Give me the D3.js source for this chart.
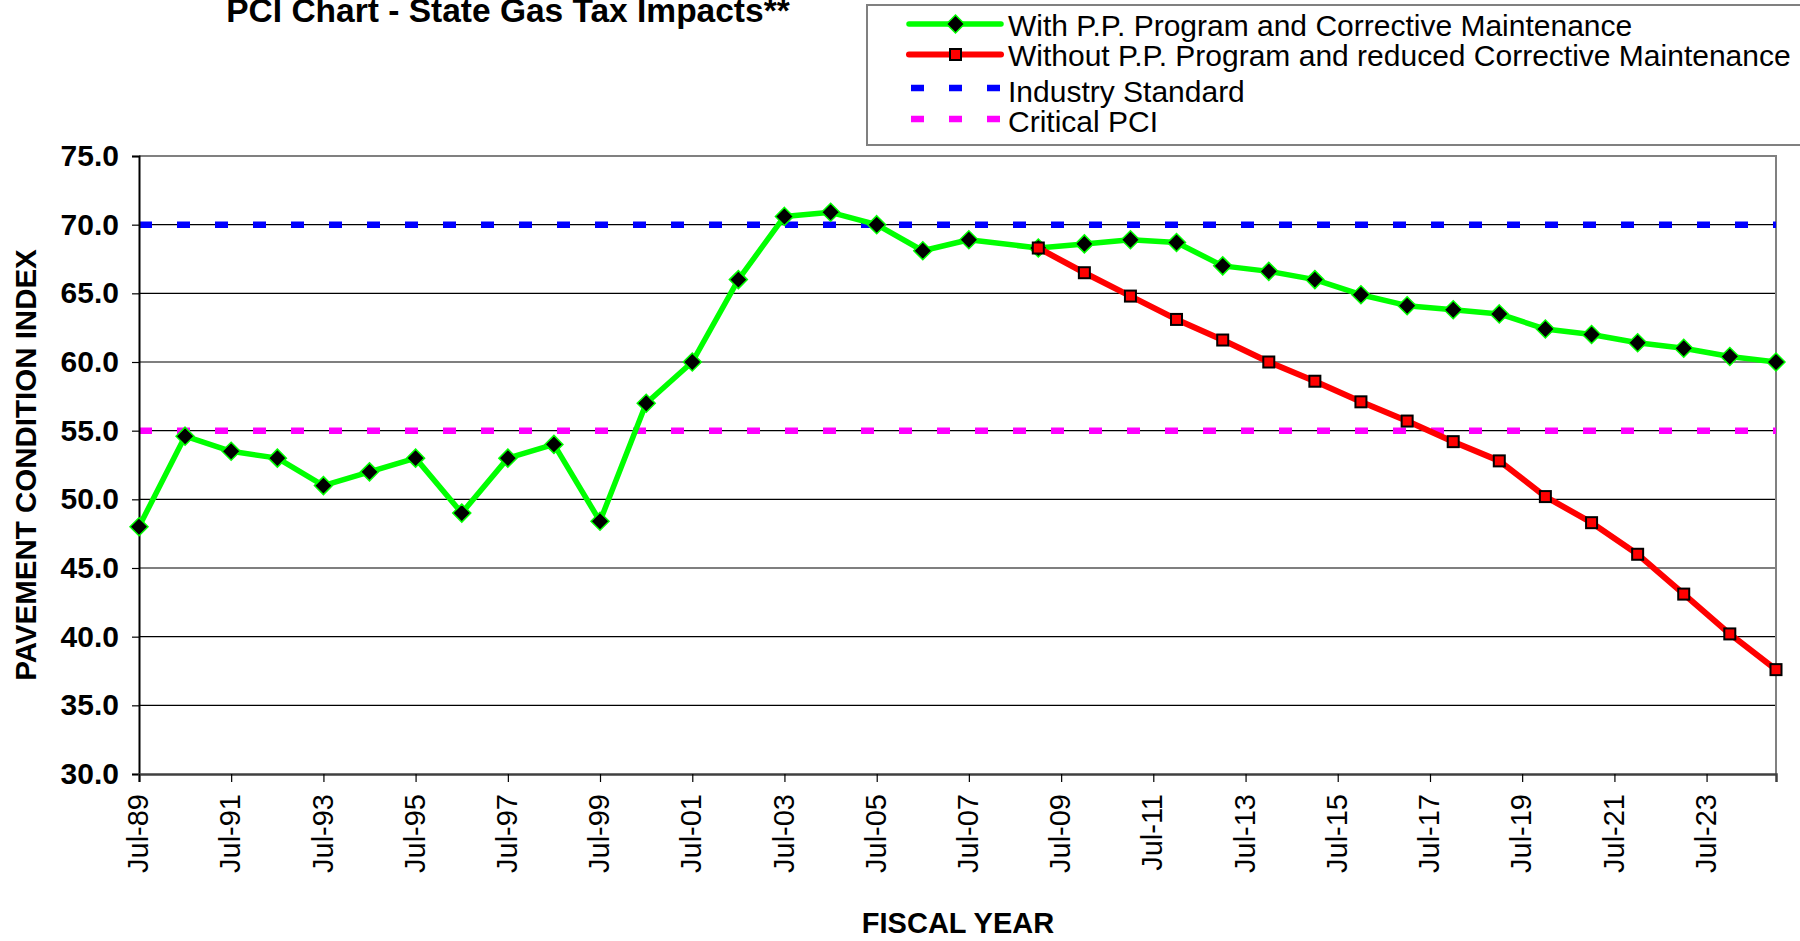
<!DOCTYPE html>
<html><head><meta charset="utf-8">
<script src="https://cdn.jsdelivr.net/npm/d3@7"></script>
<style>body{margin:0;background:#fff;} svg{display:block;font-family:"Liberation Sans",Arial,sans-serif;}</style>
</head><body>
<svg id="chart" width="1800" height="941"></svg>
<script>
const chartTitle = "PCI Chart - State Gas Tax Impacts**";
const yAxisTitle = "PAVEMENT CONDITION INDEX";
const xAxisTitle = "FISCAL YEAR";
const seriesNames = [
  "With P.P. Program and Corrective Maintenance",
  "Without P.P. Program and reduced Corrective Maintenance",
  "Industry Standard",
  "Critical PCI"
];
const withDates = ["1989-07","1990-07","1991-07","1992-07","1993-07","1994-07","1995-07","1996-07","1997-07","1998-07",
  "1999-07","2000-07","2001-07","2002-07","2003-07","2004-07","2005-07","2006-07","2007-07",
  "2009-01","2010-01","2011-01","2012-01","2013-01","2014-01","2015-01","2016-01","2017-01","2018-01",
  "2019-01","2020-01","2021-01","2022-01","2023-01","2024-01","2025-01"];
const withValues = [48.0,54.6,53.5,53.0,51.0,52.0,53.0,49.0,53.0,54.0,
  48.4,57.0,60.0,66.0,70.6,70.9,70.0,68.1,68.9,
  68.3,68.6,68.9,68.7,67.0,66.6,66.0,64.9,64.1,63.8,
  63.5,62.4,62.0,61.4,61.0,60.4,60.0];
const withoutDates = ["2009-01","2010-01","2011-01","2012-01","2013-01","2014-01","2015-01","2016-01","2017-01",
  "2018-01","2019-01","2020-01","2021-01","2022-01","2023-01","2024-01","2025-01"];
const withoutValues = [68.3,66.5,64.8,63.1,61.6,60.0,58.6,57.1,55.7,54.2,52.8,50.2,48.3,46.0,43.1,40.2,37.6];
const industryStandard = 70;
const criticalPCI = 55;
const yTickValues = [30,35,40,45,50,55,60,65,70,75];
const xTickDates = ["1989-07","1991-07","1993-07","1995-07","1997-07","1999-07","2001-07","2003-07","2005-07",
  "2007-07","2009-07","2011-07","2013-07","2015-07","2017-07","2019-07","2021-07","2023-07"];
const xDomain = ["1989-07","2025-01"];

const parse = d3.timeParse("%Y-%m");
const svg = d3.select("#chart");
const L = 139, R = 1776, T = 156, B = 774;

const x = d3.scaleTime().domain(xDomain.map(parse)).range([L, R]);
const y = d3.scaleLinear().domain([30, 75]).range([B, T]);

// gridlines
svg.append("g").selectAll("line").data(yTickValues.filter(v => v > 30 && v < 75)).join("line")
  .attr("x1", L).attr("x2", R).attr("y1", d => y(d)).attr("y2", d => y(d))
  .attr("stroke", "#000").attr("stroke-width", 1.2);
// plot border top/right
svg.append("path").attr("d", `M${L},${y(75)}H${R}V${B}`).attr("fill", "none")
  .attr("stroke", "#808080").attr("stroke-width", 2);

// reference lines
function refLine(v, color) {
  svg.append("line").attr("x1", L).attr("x2", R).attr("y1", y(v)).attr("y2", y(v))
    .attr("stroke", color).attr("stroke-width", 6.5).attr("stroke-dasharray", "13,25");
}
refLine(industryStandard, "#0000FF");
refLine(criticalPCI, "#FF00FF");

// y axis
const yAxis = d3.axisLeft(y).tickValues(yTickValues).tickFormat(d3.format(".1f")).tickSize(7).tickPadding(13);
const gy = svg.append("g").attr("transform", `translate(${L},0)`).call(yAxis);
gy.select(".domain").attr("stroke", "#000").attr("stroke-width", 2);
gy.selectAll(".tick line").attr("stroke", "#000").attr("stroke-width", 1.2);
gy.selectAll(".tick text").attr("font-family", "Liberation Sans, Arial, sans-serif")
  .attr("font-size", 30).attr("font-weight", "bold").attr("fill", "#000");

// x axis
const xAxis = d3.axisBottom(x).tickValues(xTickDates.map(parse)).tickFormat(d3.timeFormat("%b-%y")).tickSize(8);
const gx = svg.append("g").attr("transform", `translate(0,${B})`).call(xAxis);
gx.select(".domain").attr("stroke", "#404040").attr("stroke-width", 2.5);
gx.selectAll(".tick line").attr("stroke", "#000").attr("stroke-width", 1.2);
gx.selectAll(".tick text").attr("font-family", "Liberation Sans, Arial, sans-serif")
  .attr("font-size", 29).attr("fill", "#000")
  .attr("transform", "rotate(-90)").attr("text-anchor", "end")
  .attr("x", -20).attr("y", 0).attr("dy", "0.3em");

// series
const withData = withDates.map((d, i) => ({date: parse(d), value: withValues[i]}));
const withoutData = withoutDates.map((d, i) => ({date: parse(d), value: withoutValues[i]}));
const line = d3.line().x(d => x(d.date)).y(d => y(d.value));
const diamond = r => `M0,${-r}L${r},0L0,${r}L${-r},0Z`;

svg.append("path").datum(withData).attr("d", line).attr("fill", "none")
  .attr("stroke", "#00FF00").attr("stroke-width", 5.5).attr("stroke-linejoin", "round");
svg.append("g").selectAll("path").data(withData).join("path")
  .attr("transform", d => `translate(${x(d.date)},${y(d.value)})`)
  .attr("d", diamond(9)).attr("fill", "#000").attr("stroke", "#00FF00").attr("stroke-width", 1.5);

svg.append("path").datum(withoutData).attr("d", line).attr("fill", "none")
  .attr("stroke", "#FF0000").attr("stroke-width", 6).attr("stroke-linejoin", "round");
svg.append("g").selectAll("rect").data(withoutData).join("rect")
  .attr("x", d => x(d.date) - 5.5).attr("y", d => y(d.value) - 5.5)
  .attr("width", 11).attr("height", 11).attr("fill", "#FF0000").attr("stroke", "#000").attr("stroke-width", 2);

// titles
svg.append("text").attr("x", 508).attr("y", 22).attr("text-anchor", "middle")
  .attr("font-size", 33.5).attr("font-weight", "bold").text(chartTitle);
svg.append("text").attr("transform", `translate(36,${(T + B) / 2}) rotate(-90)`).attr("text-anchor", "middle")
  .attr("font-size", 29.5).attr("font-weight", "bold").text(yAxisTitle);
svg.append("text").attr("x", 958).attr("y", 933).attr("text-anchor", "middle")
  .attr("font-size", 29).attr("font-weight", "bold").text(xAxisTitle);

// legend
const lg = svg.append("g");
lg.append("rect").attr("x", 867).attr("y", 5).attr("width", 960).attr("height", 140)
  .attr("fill", "#fff").attr("stroke", "#808080").attr("stroke-width", 2);
const markY = [24, 54.5, 88, 119];
const textY = [25, 55, 91, 121];
const lx1 = 909, lx2 = 1001, lmid = 955.5;
lg.append("line").attr("x1", lx1).attr("x2", lx2).attr("y1", markY[0]).attr("y2", markY[0])
  .attr("stroke", "#00FF00").attr("stroke-width", 5.5).attr("stroke-linecap", "round");
lg.append("path").attr("transform", `translate(${lmid},${markY[0]})`).attr("d", diamond(9))
  .attr("fill", "#000").attr("stroke", "#00FF00").attr("stroke-width", 1.5);
lg.append("line").attr("x1", lx1).attr("x2", lx2).attr("y1", markY[1]).attr("y2", markY[1])
  .attr("stroke", "#FF0000").attr("stroke-width", 6).attr("stroke-linecap", "round");
lg.append("rect").attr("x", lmid - 5.5).attr("y", markY[1] - 5.5).attr("width", 11).attr("height", 11)
  .attr("fill", "#FF0000").attr("stroke", "#000").attr("stroke-width", 2);
lg.append("line").attr("x1", 911).attr("x2", lx2).attr("y1", markY[2]).attr("y2", markY[2])
  .attr("stroke", "#0000FF").attr("stroke-width", 6.5).attr("stroke-dasharray", "13,25");
lg.append("line").attr("x1", 911).attr("x2", lx2).attr("y1", markY[3]).attr("y2", markY[3])
  .attr("stroke", "#FF00FF").attr("stroke-width", 6.5).attr("stroke-dasharray", "13,25");
lg.selectAll("text.lab").data(seriesNames).join("text").attr("class", "lab")
  .attr("x", 1008).attr("y", (d, i) => textY[i]).attr("dy", "0.36em")
  .attr("font-size", 30).attr("fill", "#000").text(d => d);
</script>
</body></html>
